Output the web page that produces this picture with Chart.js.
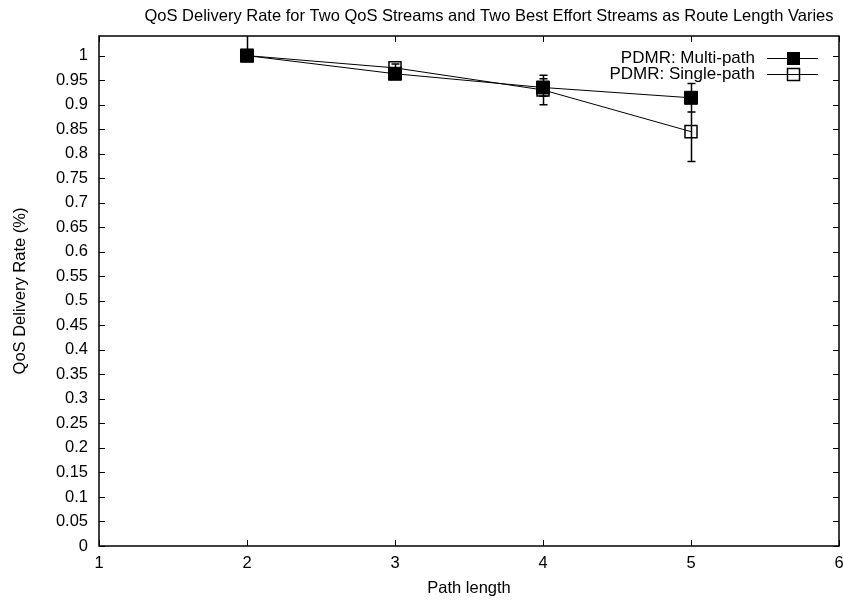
<!DOCTYPE html>
<html>
<head>
<meta charset="utf-8">
<script src="https://cdn.jsdelivr.net/npm/chart.js@4.4.1/dist/chart.umd.min.js"></script>
<style>
  html, body { margin: 0; padding: 0; background: #fff; overflow: hidden; }
  #myChart { display: block; }
</style>
</head>
<body>
<canvas id="myChart" width="843" height="600"></canvas>
<script>
"use strict";

// Datos
const pathLengths = [2, 3, 4, 5];
const multiPath = [1.0, 0.963, 0.935, 0.914];
const multiPathErrLow = [0, 0.006, 0.018, 0.029];
const multiPathErrHigh = [0, 0.006, 0.018, 0.029];
const singlePath = [1.0, 0.975, 0.93, 0.845];
const singlePathErrLow = [0.01, 0.008, 0.03, 0.061];
const singlePathErrHigh = [0.05, 0.008, 0.03, 0.061];

const xTicks = [1, 2, 3, 4, 5, 6];
const yTicks = [0, 0.05, 0.1, 0.15, 0.2, 0.25, 0.3, 0.35, 0.4, 0.45, 0.5,
  0.55, 0.6, 0.65, 0.7, 0.75, 0.8, 0.85, 0.9, 0.95, 1];

const titleText = "QoS Delivery Rate for Two QoS Streams and Two Best Effort Streams as Route Length Varies";
const xTitle = "Path length";
const yTitle = "QoS Delivery Rate (%)";
const seriesNames = ["PDMR: Multi-path", "PDMR: Single-path"];

const FAMILY = "'Liberation Sans', Arial, sans-serif";
const FONT = "16.5px " + FAMILY;

const toPoints = (vals) => pathLengths.map((x, i) => ({ x: x, y: vals[i] }));

// Marco, marcas, barras de error, leyenda y textos al estilo gnuplot
const gnuplotPlugin = {
  id: "gnuplot",
  beforeDatasetsDraw(chart) {
    const { ctx, chartArea: a, scales } = chart;
    ctx.save();
    ctx.strokeStyle = "#000";
    ctx.lineWidth = 1;
    ctx.beginPath();
    yTicks.forEach((v) => {
      const y = Math.round(scales.y.getPixelForValue(v)) + 0.5;
      ctx.moveTo(a.left, y); ctx.lineTo(a.left + 6, y);
      ctx.moveTo(a.right, y); ctx.lineTo(a.right - 6, y);
    });
    xTicks.forEach((v) => {
      const x = Math.round(scales.x.getPixelForValue(v)) + 0.5;
      ctx.moveTo(x, a.bottom); ctx.lineTo(x, a.bottom - 6);
      ctx.moveTo(x, a.top); ctx.lineTo(x, a.top + 6);
    });
    ctx.stroke();

    // barras de error
    ctx.beginPath();
    ctx.rect(a.left, a.top, a.right - a.left, a.bottom - a.top);
    ctx.clip();
    const bars = [
      [singlePath, singlePathErrLow, singlePathErrHigh],
      [multiPath, multiPathErrLow, multiPathErrHigh],
    ];
    ctx.lineWidth = 1.5;
    ctx.beginPath();
    bars.forEach(([vals, lo, hi]) => {
      pathLengths.forEach((xv, i) => {
        if (!lo[i] && !hi[i]) return;
        const x = Math.round(scales.x.getPixelForValue(xv)) + 0.5;
        const y1 = scales.y.getPixelForValue(vals[i] + hi[i]);
        const y2 = scales.y.getPixelForValue(vals[i] - lo[i]);
        ctx.moveTo(x, y1); ctx.lineTo(x, y2);
        ctx.moveTo(x - 4, y1); ctx.lineTo(x + 4, y1);
        ctx.moveTo(x - 4, y2); ctx.lineTo(x + 4, y2);
      });
    });
    ctx.stroke();
    ctx.restore();
  },
  afterDraw(chart) {
    const { ctx, chartArea: a, scales } = chart;
    ctx.save();
    ctx.strokeStyle = "#000";
    ctx.lineWidth = 1.5;
    ctx.strokeRect(a.left, a.top, a.right - a.left, a.bottom - a.top);

    ctx.fillStyle = "#000";
    ctx.font = FONT;
    ctx.textBaseline = "middle";
    ctx.textAlign = "center";
    // etiquetas del eje x (el 6 queda cortado en el borde, como en gnuplot)
    xTicks.forEach((v) => {
      ctx.fillText(String(v), scales.x.getPixelForValue(v), a.bottom + 17);
    });
    ctx.fillText(titleText, 489, 16);
    ctx.fillText(xTitle, (a.left + a.right) / 2, 588);
    ctx.save();
    ctx.translate(20, (a.top + a.bottom) / 2);
    ctx.rotate(-Math.PI / 2);
    ctx.fillText(yTitle, 0, 0);
    ctx.restore();

    // leyenda
    ctx.font = "17px " + FAMILY;
    ctx.textAlign = "right";
    seriesNames.forEach((name, i) => {
      const y = 58 + i * 16;
      ctx.fillText(name, 755, y);
      const yy = Math.round(y) + 0.5;
      ctx.lineWidth = 1;
      ctx.beginPath();
      ctx.moveTo(767, yy); ctx.lineTo(818, yy);
      ctx.stroke();
      if (i === 0) {
        ctx.fillRect(787, yy - 6.5, 13, 13);
      } else {
        ctx.lineWidth = 1.5;
        ctx.strokeRect(787.5, yy - 6, 12, 12);
      }
    });
    ctx.restore();
  }
};

const data = {
  datasets: [
    {
      label: seriesNames[0],
      data: toPoints(multiPath),
      borderColor: "#000",
      backgroundColor: "#000",
      borderWidth: 1,
      pointStyle: "rect",
      pointRadius: 9.2,
      pointBorderWidth: 1,
      pointBackgroundColor: "#000",
    },
    {
      label: seriesNames[1],
      data: toPoints(singlePath),
      borderColor: "#000",
      backgroundColor: "rgba(0,0,0,0)",
      borderWidth: 1,
      pointStyle: "rect",
      pointRadius: 8.5,
      pointBorderWidth: 1.5,
      pointBackgroundColor: "rgba(0,0,0,0)",
    },
  ],
};

const tickFont = { family: FAMILY, size: 16.5 };

const config = {
  type: "line",
  data,
  options: {
    responsive: false,
    animation: false,
    clip: false,
    layout: { autoPadding: false, padding: { top: 36, right: 4, left: 0, bottom: 0 } },
    plugins: {
      legend: { display: false },
      title: { display: false },
      tooltip: { enabled: false },
    },
    scales: {
      x: {
        type: "linear",
        min: 1,
        max: 6,
        afterBuildTicks: (s) => { s.ticks = xTicks.map((v) => ({ value: v })); },
        afterFit: (s) => { s.height = 54; },
        grid: { display: false, drawTicks: false },
        border: { display: false },
        ticks: { display: false },
      },
      y: {
        min: 0,
        max: 1.04,
        afterBuildTicks: (s) => { s.ticks = yTicks.map((v) => ({ value: v })); },
        afterFit: (s) => { s.width = 99; },
        grid: { display: false, drawTicks: false },
        border: { display: false },
        ticks: {
          color: "#000",
          font: tickFont,
          padding: 11,
          callback: (v) => String(+Number(v).toFixed(2)),
        },
      },
    },
  },
  plugins: [gnuplotPlugin],
};

const myChart = new Chart(document.querySelector("#myChart"), config);
</script>
</body>
</html>
